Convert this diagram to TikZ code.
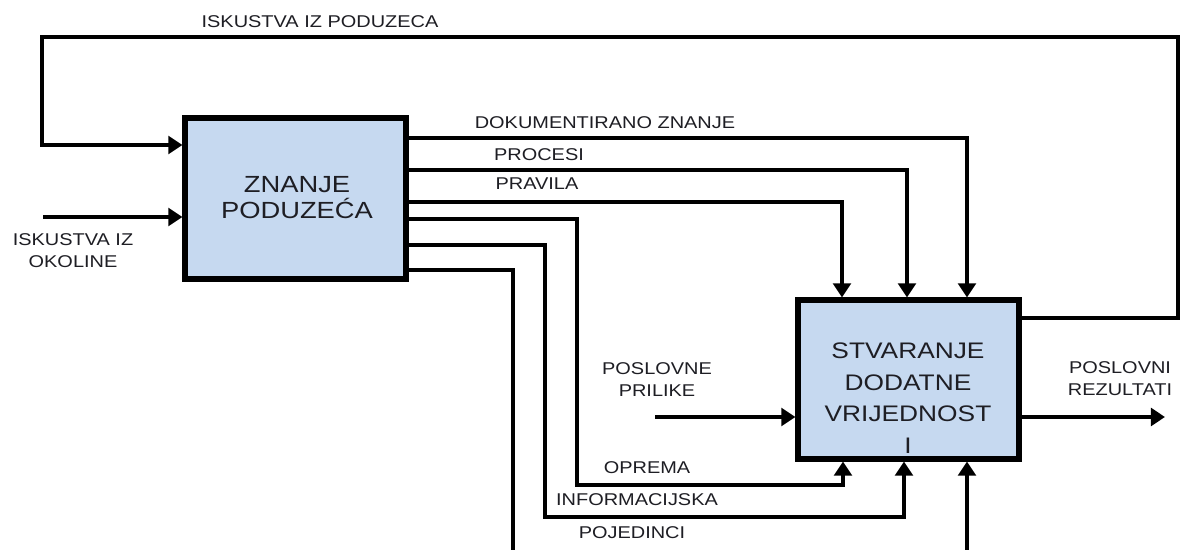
\documentclass[tikz,border=0pt]{standalone}
\usepackage{fontspec}
\setmainfont{Liberation Sans}[FakeStretch=1.17]
\usetikzlibrary{arrows.meta}
\definecolor{boxfill}{RGB}{198,217,240}
\definecolor{txt}{RGB}{30,30,36}
\begin{document}
\begin{tikzpicture}[x=0.02cm,y=-0.02cm,
  blk/.style={draw=black, line width=2.9pt, fill=boxfill, inner sep=0pt},
  conn/.style={line width=2.4pt, -{Triangle[length=8pt,width=10pt]}},
  plain/.style={line width=2.4pt},
  lbl/.style={text=txt, inner sep=0pt, align=center, font=\fontsize{9.7pt}{12.5pt}\selectfont},
  big/.style={text=txt, inner sep=0pt, align=center}]
\useasboundingbox (0,0) rectangle (1200,550);
\fill[white] (0,0) rectangle (1200,550);
% boxes
\node[blk, minimum width=221*0.02cm, minimum height=161*0.02cm] (b1) at (295.5,198.5) {};
\node[blk, minimum width=221*0.02cm, minimum height=159*0.02cm] (b2) at (908.5,379.5) {};
\node[big, font=\fontsize{13.3pt}{14.8pt}\selectfont] (t1) at (297,198) {ZNANJE\\PODUZEĆA};
\node[big, font=\fontsize{12.8pt}{18pt}\selectfont] (t2) at (908,398) {STVARANJE\\DODATNE\\VRIJEDNOST\\I};
% coordinates
\coordinate (tl) at (42,37);
\coordinate (tr) at (1178,37);
\coordinate (ok) at (43,217);
\coordinate (pp) at (655,417);
\coordinate (pr) at (1165,417);
\coordinate (pojend) at (513,560);
\coordinate (poj2) at (967,560);
% feedback loop
\draw[conn] (b2.east |- 0,318) -| (tr) -- (tl) |- (b1.west |- 0,145);
\draw[conn] (ok) -- (b1.west |- ok);
% outputs of b1
\draw[conn] (b1.east |- 0,138) -| (b2.north -| 967,0);
\draw[conn] (b1.east |- 0,170) -| (b2.north -| 907,0);
\draw[conn] (b1.east |- 0,202) -| (b2.north -| 842,0);
\draw[conn] (b1.east |- 0,219) -| (577,485) -| (b2.south -| 843,0);
\draw[conn] (b1.east |- 0,245) -| (545,517) -| (b2.south -| 904,0);
\draw[plain] (b1.east |- 0,270) -| (pojend);
\draw[conn] (poj2) -- (b2.south -| 967,0);
% b2 in/out
\draw[conn] (pp) -- (b2.west |- pp);
\draw[conn] (b2.east |- pr) -- (pr);
% labels
\node[lbl] (l1) at (320,22) {ISKUSTVA IZ PODUZECA};
\node[lbl] (l2) at (73,251) {ISKUSTVA IZ\\OKOLINE};
\node[lbl] (l3) at (605,123) {DOKUMENTIRANO ZNANJE};
\node[lbl] (l4) at (539,155) {PROCESI};
\node[lbl] (l5) at (537,184) {PRAVILA};
\node[lbl] (l6) at (647,468) {OPREMA};
\node[lbl] (l7) at (637,500) {INFORMACIJSKA};
\node[lbl] (l8) at (632,533) {POJEDINCI};
\node[lbl] (l9) at (657,380) {POSLOVNE\\PRILIKE};
\node[lbl] (l10) at (1120,379) {POSLOVNI\\REZULTATI};
\end{tikzpicture}
\end{document}
